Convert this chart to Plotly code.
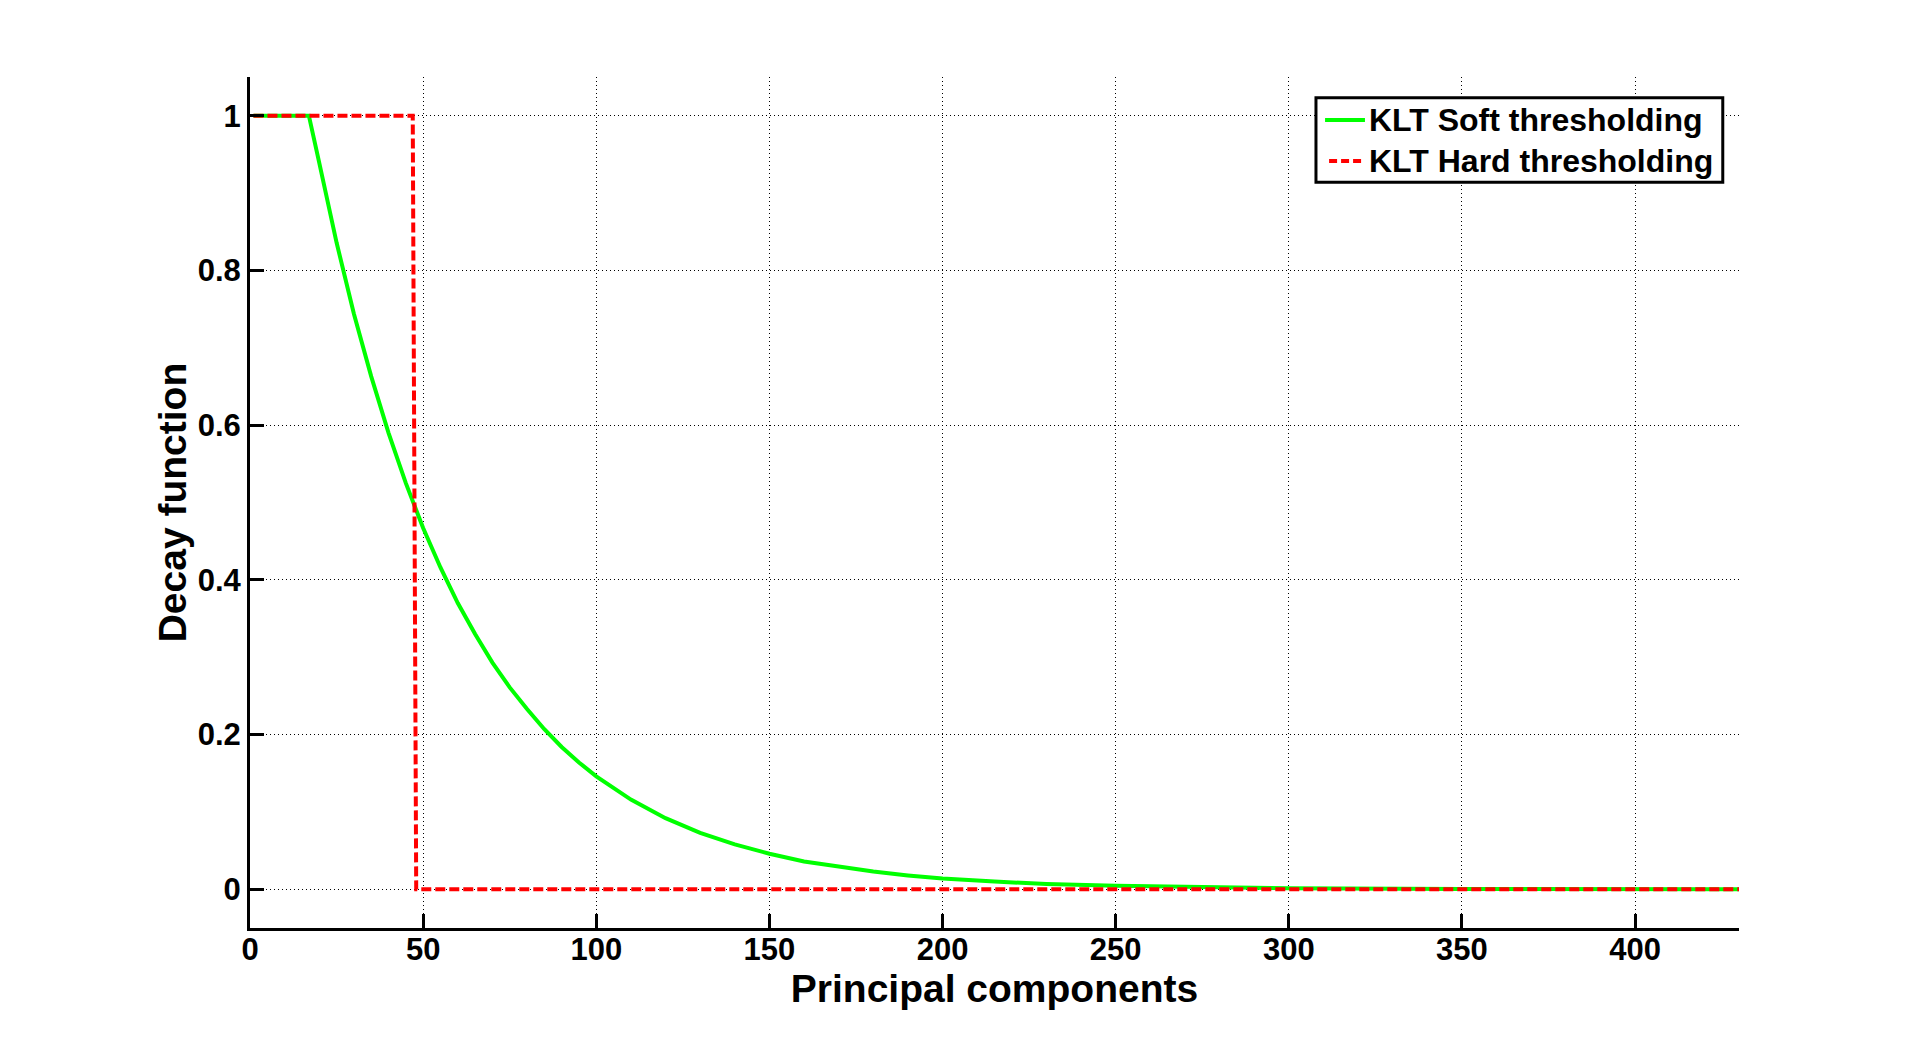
import plotly.graph_objects as go

# values
soft_x = [1, 17, 20, 25, 30, 35, 40, 45, 50, 55, 60, 65, 70, 75, 80, 85, 90,
          95, 100, 110, 120, 130, 140, 150, 160, 170, 180, 190, 200, 215, 230,
          250, 275, 300, 350, 430]
soft_y = [1.0, 1.0, 0.939, 0.836, 0.744, 0.663, 0.590, 0.525, 0.467, 0.416,
          0.370, 0.330, 0.293, 0.261, 0.233, 0.207, 0.184, 0.164, 0.146,
          0.116, 0.092, 0.073, 0.058, 0.046, 0.036, 0.029, 0.023, 0.018,
          0.014, 0.010, 0.007, 0.0045, 0.0025, 0.0014, 0.0004, 0.0]

hard_x = [1, 47, 48, 430]
hard_y = [1, 1, 0, 0]

x_ticks = [0, 50, 100, 150, 200, 250, 300, 350, 400]
y_ticks = [0, 0.2, 0.4, 0.6, 0.8, 1]
y_tick_labels = ["0", "0.2", "0.4", "0.6", "0.8", "1"]

SOFT_NAME = "KLT Soft thresholding"
HARD_NAME = "KLT Hard thresholding"
SOFT_COLOR = "#00ff00"
HARD_COLOR = "#ff0000"
HARD_DASH = "10px,4px"

FONT = "Liberation Sans, Arial, sans-serif"

fig = go.Figure()

fig.add_trace(go.Scatter(
    x=soft_x, y=soft_y, mode="lines", name=SOFT_NAME,
    line=dict(color=SOFT_COLOR, width=4),
))
fig.add_trace(go.Scatter(
    x=hard_x, y=hard_y, mode="lines", name=HARD_NAME,
    line=dict(color=HARD_COLOR, width=4, dash=HARD_DASH),
))

axis_common = dict(
    showline=True, linecolor="black", linewidth=3,
    ticks="inside", ticklen=14, tickwidth=3, tickcolor="black",
    showgrid=True, gridcolor="black", gridwidth=1, griddash="1px,3px",
    zeroline=False, mirror=False,
    tickfont=dict(family=FONT, size=31, color="black", weight="bold"),
)

fig.update_xaxes(
    range=[0, 430], tickvals=x_ticks, ticklabelstandoff=-8,
    title=dict(text="Principal components", standoff=0,
               font=dict(family=FONT, size=39, color="black", weight="bold")),
    **axis_common,
)
fig.update_yaxes(
    range=[-0.05, 1.05], tickvals=y_ticks, ticktext=y_tick_labels,
    title=dict(text="Decay function", standoff=0,
               font=dict(family=FONT, size=39, color="black", weight="bold")),
    **axis_common,
)

# legend box drawn by hand (paper coords) so the row spacing matches
legend_shapes = [
    dict(type="rect", xref="paper", yref="paper",
         x0=0.7159, x1=0.9891, y0=0.8763, y1=0.9757,
         line=dict(color="black", width=3), fillcolor="white", layer="above"),
    dict(type="line", xref="paper", yref="paper",
         x0=0.7220, x1=0.7488, y0=0.9495, y1=0.9495,
         line=dict(color=SOFT_COLOR, width=4), layer="above"),
    dict(type="line", xref="paper", yref="paper",
         x0=0.7247, x1=0.7488, y0=0.9013, y1=0.9013,
         line=dict(color=HARD_COLOR, width=4, dash="8px,4px"), layer="above"),
]
legend_labels = [
    dict(text=SOFT_NAME, x=0.7500, y=0.9489),
    dict(text=HARD_NAME, x=0.7500, y=0.9013),
]
for lab in legend_labels:
    fig.add_annotation(
        xref="paper", yref="paper", x=lab["x"], y=lab["y"],
        text=lab["text"], showarrow=False, xanchor="left", yanchor="middle",
        font=dict(family=FONT, size=32, color="black", weight="bold"),
    )

# page body has an 8px margin, so the figure is 16px smaller than the window
fig.update_layout(
    width=1905, height=1027,
    margin=dict(l=242, r=174, t=69, b=107),
    paper_bgcolor="white", plot_bgcolor="white",
    showlegend=False,
    shapes=legend_shapes,
)

fig.write_html("out.html")
